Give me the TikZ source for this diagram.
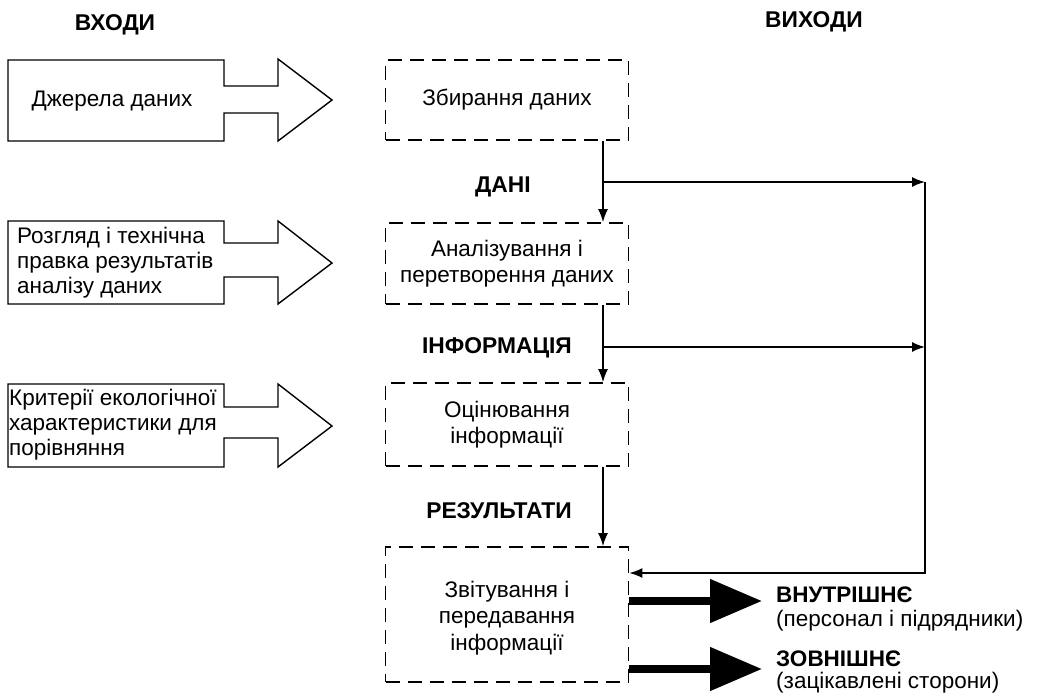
\documentclass[tikz,border=0pt]{standalone}
\usepackage{fontspec}
\setmainfont{Liberation Sans}
\usetikzlibrary{arrows.meta}
\begin{document}
\begin{tikzpicture}[x=1pt,y=-1pt,
  txt/.style={font=\fontsize{22.5}{25}\selectfont, inner sep=0pt},
  head/.style={font=\fontsize{22.8}{25}\selectfont\bfseries, inner sep=0pt},
  stage/.style={draw, dashed, dash pattern=on 14pt off 8pt, line width=1.7pt,
    minimum width=243pt, inner sep=0pt, align=center,
    font=\fontsize{22.5}{26.5}\selectfont},
  inarrow/.style={draw, line width=1.4pt, fill=white, line join=miter},
  flow/.style={line width=1.5pt, -{Latex[length=13pt,width=10pt]}},
  outflow/.style={line width=8pt, -{Triangle[length=52pt,width=42pt]}},
]
\useasboundingbox (0,0) rectangle (1037,696);

% headers
\node[head] (hin)  at (115,25) {ВХОДИ};
\node[head] (hout) at (814,22) {ВИХОДИ};

% input block arrows
\draw[inarrow] (8,60) -- (224,60) -- (224,86) -- (278,86) -- (278,59) -- (332,100)
  -- (278,141) -- (278,113) -- (224,113) -- (224,141) -- (8,141) -- cycle;
\node[txt] (in1) at (112,101) {Джерела даних};

\draw[inarrow] (8,221) -- (224,221) -- (224,243) -- (278,243) -- (278,221) -- (332,263)
  -- (278,304) -- (278,277) -- (224,277) -- (224,304) -- (8,304) -- cycle;
\node[txt, anchor=west, align=left] (in2) at (17,263)
  {Розгляд і технічна\\правка результатів\\аналізу даних};

\draw[inarrow] (8,384) -- (224,384) -- (224,407) -- (278,407) -- (278,384) -- (332,426)
  -- (278,467) -- (278,438) -- (224,438) -- (224,467) -- (8,467) -- cycle;
\node[txt, anchor=west, align=left] (in3) at (9,425)
  {Критерії екологічної\\характеристики для\\порівняння};

% process stages
\node[stage, minimum height=80pt]  (b1) at (507,100) {Збирання даних};
\node[stage, minimum height=81pt]  (b2) at (507,263.5) {Аналізування і\\перетворення даних};
\node[stage, minimum height=83pt]  (b3) at (507,424.5) {Оцінювання\\інформації};
\node[stage, minimum height=135pt] (b4) at (507,614.5) {};
\node[txt, align=center, font=\fontsize{22.5}{26.5}\selectfont] (b4t) at (507,618)
  {Звітування і\\передавання\\інформації};

% flow labels
\node[head] (l1) at (503,187) {ДАНІ};
\node[head] (l2) at (497,348) {ІНФОРМАЦІЯ};
\node[head] (l3) at (499,511) {РЕЗУЛЬТАТИ};

% connector geometry
\coordinate (xl) at (603,0);
\coordinate (r1) at (925,182);
\coordinate (r2) at (925,347);
\coordinate (r3) at (925,573);

% main flow down the stages
\draw[flow] (b1.south -| xl) -- (b2.north -| xl);
\draw[flow] (b2.south -| xl) -- (b3.north -| xl);
\draw[flow] (b3.south -| xl) -- (b4.north -| xl);

% branches to the output collector
\draw[flow] (xl |- r1) -- (r1);
\draw[flow] (xl |- r2) -- (r2);
\draw[flow] (r1) -- (r3) -- (b4.east |- r3);

% outputs
\coordinate (o1) at (762,601);
\coordinate (o2) at (762,669);
\draw[outflow] (b4.east |- o1) -- (o1);
\draw[outflow] (b4.east |- o2) -- (o2);

\node[anchor=west, align=left, inner sep=0pt, font=\fontsize{22.5}{24}\selectfont] (t1) at (776,609)
  {\textbf{ВНУТРІШНЄ}\\(персонал і підрядники)};
\node[anchor=west, align=left, inner sep=0pt, font=\fontsize{22.5}{22}\selectfont] (t2) at (776,672)
  {\textbf{ЗОВНІШНЄ}\\(зацікавлені сторони)};
\end{tikzpicture}
\end{document}
